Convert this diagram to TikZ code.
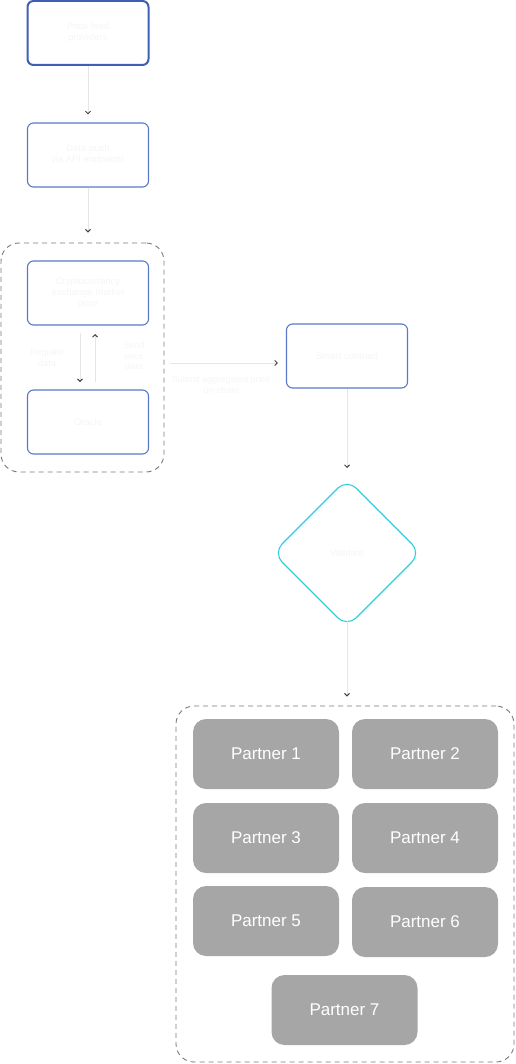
\documentclass[tikz,border=0pt]{standalone}
\usepackage{fontspec}
\setmainfont{Liberation Sans}
\usetikzlibrary{arrows.meta,shapes.geometric}
\definecolor{boxblue}{HTML}{3F5FB5}
\definecolor{boxblue2}{HTML}{5A78C8}
\definecolor{cyanline}{HTML}{2CCFE0}
\definecolor{partnergray}{HTML}{A6A6A6}
\definecolor{faint}{HTML}{F5F5F5}
\definecolor{linegray}{HTML}{E6E6E6}
\definecolor{dashgray}{HTML}{7A7A7A}
\tikzset{
  flowbox/.style={draw=boxblue2, line width=1.1pt, rounded corners=6pt, minimum width=121pt, minimum height=64pt, align=center, font=\fontsize{9.5}{11}\selectfont, text=faint, inner sep=2pt},
  firstbox/.style={flowbox, draw=boxblue, line width=2pt},
  groupbox/.style={draw=dashgray, dash pattern=on 5pt off 4pt, line width=0.9pt, rounded corners=18pt},
  partner/.style={fill=partnergray, rounded corners=13pt, minimum width=146pt, minimum height=70pt, text=white, font=\fontsize{17}{20}\selectfont},
  conn/.style={draw=linegray, line width=0.8pt, -{Straight Barb[length=2.5pt,width=5pt,line width=1pt,color=black!75]}},
  lbl/.style={font=\fontsize{9}{10.5}\selectfont, text=faint, align=center},
}
\begin{document}
\begin{tikzpicture}[x=1pt,y=-1pt]
\useasboundingbox (0,0) rectangle (515,1064);
% groups
\node[groupbox, minimum width=163pt, minimum height=229pt] (g1) at (82.5,357.5) {};
\node[groupbox, minimum width=338pt, minimum height=356pt] (g2) at (345,884) {};
% boxes
\node[firstbox] (b1) at (88,33) {Price feed\\providers};
\node[flowbox] (b2) at (88,155) {Data push\\via API endpoints};
\node[flowbox] (b3) at (88,293) {Cryptocurrency\\exchange market\\price};
\node[flowbox] (b4) at (88,422) {Oracle};
\node[flowbox] (b5) at (347,356) {Smart contract};
% diamond
\coordinate (dc) at (347,553);
\draw[cyanline, line width=1.1pt, rounded corners=13pt] (347,479) -- (421,553) -- (347,627) -- (273,553) -- cycle;
\node[text=faint, font=\fontsize{9.5}{11}\selectfont] (dia) at (dc) {Validate};
\coordinate (dtop) at (347,486);
\coordinate (dbot) at (347,621);
% partners
\node[partner] (p1) at (266,754) {Partner 1};
\node[partner] (p2) at (425,754) {Partner 2};
\node[partner] (p3) at (266,838) {Partner 3};
\node[partner] (p4) at (425,838) {Partner 4};
\node[partner] (p5) at (266,921) {Partner 5};
\node[partner] (p6) at (425,922) {Partner 6};
\node[partner] (p7) at (344.5,1010) {Partner 7};
% connectors
\draw[conn, shorten >=8pt] (b1.south) -- (b2.north);
\draw[conn, shorten >=10pt] (b2.south) -- (b2.south |- g1.north);
\coordinate (d1) at (80,333);
\coordinate (d2) at (80,382);
\coordinate (u1) at (95,382);
\coordinate (u2) at (95,334);
\draw[conn] (d1) -- (d2);
\draw[conn] (u1) -- (u2);
\node[lbl] (l1) at (47,358) {Request\\data};
\node[lbl] (l2) at (134,356) {Send\\price\\data};
\coordinate (h1) at (170,363);
\draw[conn, shorten >=8pt] (h1) -- (b5.west |- h1);
\node[lbl] (l3) at (221,385) {Submit aggregated price\\on-chain};
\draw[conn, shorten >=18pt] (b5.south) -- (dtop);
\draw[conn, shorten >=9pt] (dbot) -- (dbot |- g2.north);
\end{tikzpicture}
\end{document}
